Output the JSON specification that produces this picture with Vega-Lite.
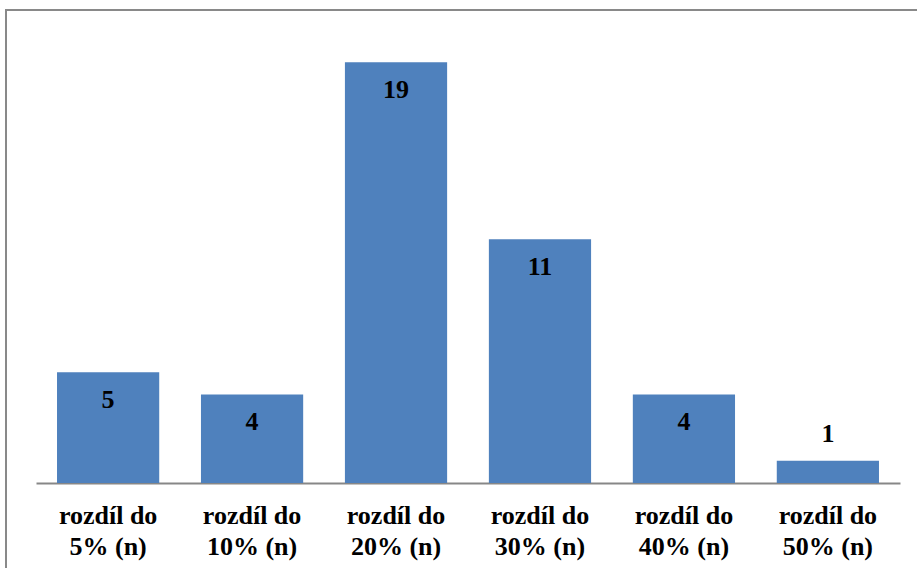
{
  "$schema": "https://vega.github.io/schema/vega-lite/v6.json",
  "width": 912,
  "height": 560,
  "autosize": "none",
  "padding": {"left": 6, "top": 10, "right": 0, "bottom": 0},
  "background": "white",
  "config": {
    "view": {"stroke": "#898989", "strokeWidth": 2},
    "font": "Liberation Serif"
  },
  "data": {
    "values": [
      {"kategorie": "rozdíl do|5%  (n)", "pocet": 5},
      {"kategorie": "rozdíl do|10% (n)", "pocet": 4},
      {"kategorie": "rozdíl do|20% (n)", "pocet": 19},
      {"kategorie": "rozdíl do|30% (n)", "pocet": 11},
      {"kategorie": "rozdíl do|40% (n)", "pocet": 4},
      {"kategorie": "rozdíl do|50% (n)", "pocet": 1}
    ]
  },
  "encoding": {
    "x": {
      "field": "kategorie",
      "type": "nominal",
      "sort": null,
      "scale": {"range": [30, 894], "paddingInner": 0.29, "paddingOuter": 0.146},
      "axis": {
        "title": null,
        "offset": -87,
        "labelAngle": 0,
        "labelExpr": "split(datum.label, '|')",
        "labelFont": "Liberation Serif",
        "labelFontSize": 26,
        "labelFontWeight": "bold",
        "labelColor": "#000000",
        "labelLineHeight": 31,
        "labelBaseline": "top",
        "labelPadding": 19,
        "ticks": false,
        "domainColor": "#878787",
        "domainWidth": 2
      }
    },
    "y": {
      "field": "pocet",
      "type": "quantitative",
      "scale": {"domain": [0, 20], "range": [473, 30]},
      "axis": null
    }
  },
  "layer": [
    {"mark": {"type": "bar", "color": "#4F81BD"}},
    {
      "transform": [{"filter": "datum.pocet >= 2"}],
      "mark": {"type": "text", "dy": 28, "baseline": "middle", "fontSize": 26, "fontWeight": "bold", "font": "Liberation Serif", "color": "#000000"},
      "encoding": {"text": {"field": "pocet", "type": "quantitative"}}
    },
    {
      "transform": [{"filter": "datum.pocet < 2"}],
      "mark": {"type": "text", "dy": -27, "baseline": "middle", "fontSize": 26, "fontWeight": "bold", "font": "Liberation Serif", "color": "#000000"},
      "encoding": {"text": {"field": "pocet", "type": "quantitative"}}
    }
  ]
}
